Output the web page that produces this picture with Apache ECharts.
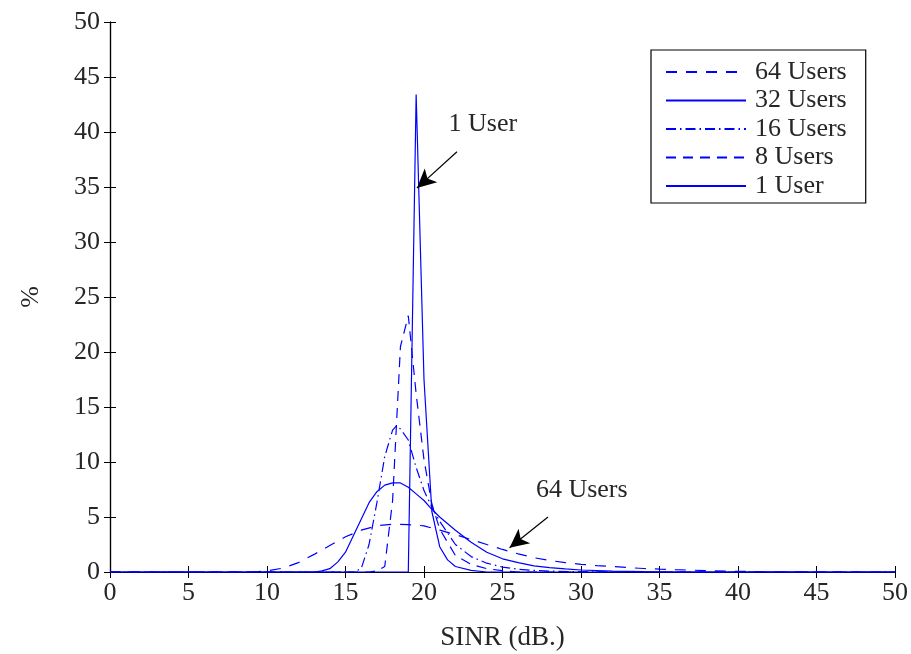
<!DOCTYPE html>
<html>
<head>
<meta charset="utf-8">
<script src="https://cdn.jsdelivr.net/npm/echarts@6/dist/echarts.min.js"></script>
<style>html,body{margin:0;padding:0;background:#fff}#c{width:911px;height:654px}</style>
</head>
<body>
<div id="c"></div>
<script>
// ---- data ----
const xTicks = [0, 5, 10, 15, 20, 25, 30, 35, 40, 45, 50];
const yTicks = [0, 5, 10, 15, 20, 25, 30, 35, 40, 45, 50];

const seriesNames = ['64 Users', '32 Users', '16 Users', '8 Users', '1 User'];

const users64X = [0, 9, 10, 11, 12, 13, 14, 15, 16, 17, 18, 19, 20, 21, 22, 23, 24, 25, 26, 27, 28, 29, 30, 31, 32, 33, 34, 35, 36, 37, 38, 40, 42, 45, 50];
const users64Y = [0, 0, 0.1, 0.35, 0.85, 1.6, 2.4, 3.2, 3.8, 4.2, 4.35, 4.3, 4.2, 3.8, 3.4, 2.95, 2.5, 2.05, 1.65, 1.3, 1.05, 0.85, 0.7, 0.58, 0.5, 0.4, 0.32, 0.26, 0.21, 0.17, 0.12, 0.06, 0.02, 0, 0];

const users32X = [0, 13, 13.5, 14, 14.5, 15, 15.5, 16, 16.5, 17, 17.5, 18, 18.5, 19, 19.5, 20, 20.5, 21, 22, 23, 24, 25, 26, 27, 28, 29, 30, 32, 34, 36, 50];
const users32Y = [0, 0, 0.1, 0.3, 0.9, 1.8, 3.3, 4.8, 6.3, 7.3, 7.9, 8.1, 8.1, 7.7, 7.1, 6.5, 5.7, 5.0, 3.8, 2.7, 1.8, 1.2, 0.85, 0.55, 0.4, 0.28, 0.18, 0.08, 0.03, 0, 0];

const users16X = [0, 15.5, 16, 16.5, 17, 17.5, 18, 18.25, 18.5, 19, 19.5, 20, 20.5, 21, 22, 23, 24, 25, 26, 27, 28, 30, 32, 50];
const users16Y = [0, 0, 0.3, 2.5, 6.3, 10.5, 12.9, 13.3, 13.0, 12.0, 9.5, 7.4, 5.9, 4.6, 2.5, 1.4, 0.8, 0.45, 0.25, 0.15, 0.08, 0.02, 0, 0];

const users8X = [0, 16.5, 17, 17.5, 18, 18.5, 19, 19.5, 20, 20.5, 21, 22, 23, 24, 25, 26, 50];
const users8Y = [0, 0, 0.1, 0.5, 6.5, 20.5, 23.3, 16.2, 10.2, 6.2, 3.9, 1.5, 0.7, 0.3, 0.12, 0, 0];

const users1X = [0, 19, 19.5, 20, 20.5, 21, 21.5, 22, 23, 24, 50];
const users1Y = [0, 0, 43.4, 17.5, 5.5, 2.3, 1.1, 0.5, 0.15, 0, 0];

// annotations: [text position], [arrow start], [arrow end]
const note1Text = [23.75, 40.7];
const note1From = [22.1, 38.2];
const note1To = [19.55, 34.9];
const note64Text = [30.05, 7.45];
const note64From = [27.9, 5.0];
const note64To = [25.45, 2.2];

// ---- chart ----
const FONT = 'Liberation Serif';
const TXT = '#262626';
const BLUE = '#0000ff';
const zip = (xs, ys) => xs.map((x, i) => [x, ys[i]]);

const dashes = {
  '64 Users': [11, 9],
  '32 Users': 'solid',
  '16 Users': [10, 4, 1.5, 4],
  '8 Users': [10, 7],
  '1 User': 'solid'
};
const dataMap = {
  '64 Users': zip(users64X, users64Y),
  '32 Users': zip(users32X, users32Y),
  '16 Users': zip(users16X, users16Y),
  '8 Users': zip(users8X, users8Y),
  '1 User': zip(users1X, users1Y)
};

const series = seriesNames.map(n => ({
  name: n,
  type: 'line',
  data: dataMap[n],
  symbol: 'none',
  smooth: false,
  lineStyle: { color: BLUE, width: 1.2, type: dashes[n] },
  itemStyle: { color: BLUE },
  animation: false
}));

// annotation arrows as markLines on a helper series
series.push({
  name: '_notes',
  type: 'line',
  data: [],
  symbol: 'none',
  animation: false,
  markLine: {
    silent: true,
    symbol: ['none', 'arrow'],
    symbolSize: [14, 19],
    lineStyle: { color: '#000', width: 1.2, type: 'solid' },
    label: { show: false },
    data: [
      [{ coord: note1From }, { coord: note1To }],
      [{ coord: note64From }, { coord: note64To }]
    ]
  },
  markPoint: {
    silent: true,
    symbol: 'circle',
    symbolSize: 0,
    label: {
      show: true, position: 'inside', color: TXT, fontFamily: FONT, fontSize: 26,
      formatter: p => p.name
    },
    data: [
      { name: '1 User', coord: note1Text },
      { name: '64 Users', coord: note64Text }
    ]
  }
});

const tickStyle = { inside: true, length: 6, lineStyle: { color: '#000', width: 1 } };
const axisLine = { show: true, lineStyle: { color: '#000', width: 1.2 } };

const option = {
  backgroundColor: '#fff',
  animation: false,
  grid: { left: 110, right: 16, top: 22, bottom: 82, containLabel: false, outerBoundsMode: 'none' },
  legend: {
    data: seriesNames,
    orient: 'vertical',
    left: 651,
    top: 50,
    padding: [9, 19, 4, 14],
    itemWidth: 80,
    itemHeight: 14,
    itemGap: 2.5,
    borderColor: '#000',
    borderWidth: 1.2,
    backgroundColor: '#fff',
    selectedMode: false,
    itemStyle: { color: 'transparent', borderColor: 'transparent', borderWidth: 0, opacity: 0 },
    textStyle: { fontFamily: FONT, fontSize: 26, color: TXT, lineHeight: 25, padding: [0, 0, 0, 4] }
  },
  xAxis: [
    {
      type: 'value', min: 0, max: 50, interval: 5, position: 'bottom',
      name: 'SINR (dB.)', nameLocation: 'middle', nameGap: 52,
      nameTextStyle: { fontFamily: FONT, fontSize: 27, color: TXT },
      axisLine, axisTick: tickStyle, splitLine: { show: false },
      axisLabel: { fontFamily: FONT, fontSize: 26, color: TXT, margin: 8,
        formatter: v => xTicks.includes(v) ? String(v) : '' }
    },
    {
      type: 'value', min: 0, max: 50, interval: 5, position: 'top',
      axisLine, axisTick: tickStyle, splitLine: { show: false }, axisLabel: { show: false }
    }
  ],
  yAxis: [
    {
      type: 'value', min: 0, max: 50, interval: 5, position: 'left',
      name: '%', nameLocation: 'middle', nameGap: 66, nameRotate: 90,
      nameTextStyle: { fontFamily: FONT, fontSize: 26, color: TXT },
      axisLine, axisTick: tickStyle, splitLine: { show: false },
      axisLabel: { fontFamily: FONT, fontSize: 26, color: TXT, margin: 10,
        formatter: v => yTicks.includes(v) ? String(v) : '' }
    },
    {
      type: 'value', min: 0, max: 50, interval: 5, position: 'right',
      axisLine, axisTick: tickStyle, splitLine: { show: false }, axisLabel: { show: false }
    }
  ],
  series
};

const chart = echarts.init(document.getElementById('c'), null, { renderer: 'canvas' });
chart.setOption(option);
</script>
</body>
</html>
